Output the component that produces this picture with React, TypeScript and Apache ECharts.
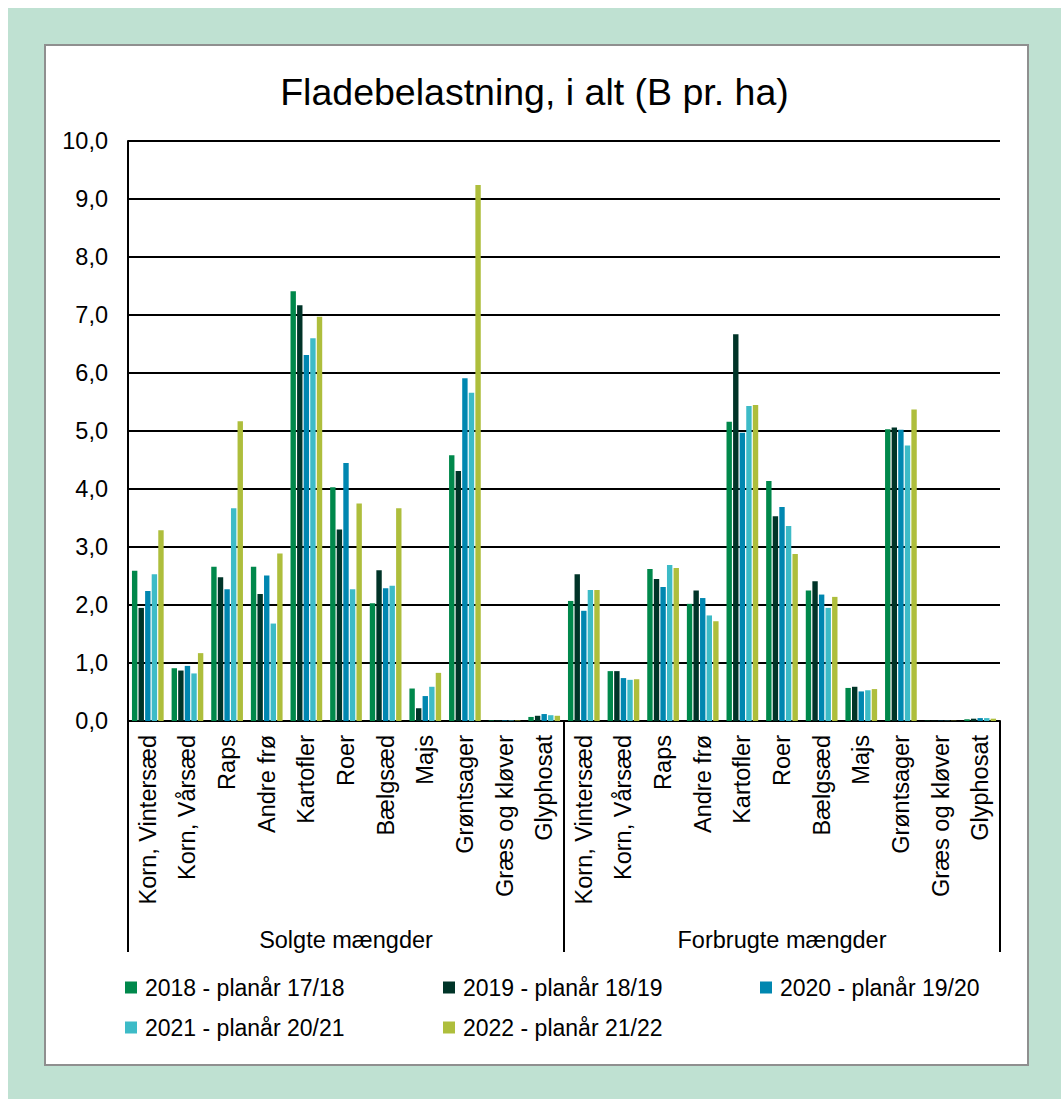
import React, { useRef, useEffect } from "react";
import * as echarts from "echarts";

const crops = [
  "Korn, Vintersæd",
  "Korn, Vårsæd",
  "Raps",
  "Andre frø",
  "Kartofler",
  "Roer",
  "Bælgsæd",
  "Majs",
  "Grøntsager",
  "Græs og kløver",
  "Glyphosat",
];
const groups = ["Solgte mængder", "Forbrugte mængder"];
const categories = [...crops, ...crops];

const seriesNames = [
  "2018 - planår 17/18",
  "2019 - planår 18/19",
  "2020 - planår 19/20",
  "2021 - planår 20/21",
  "2022 - planår 21/22",
];

const s2018 = [2.59, 0.91, 2.66, 2.66, 7.41, 4.03, 2.03, 0.56, 4.58, 0.01, 0.07, 2.07, 0.86, 2.62, 2.02, 5.16, 4.14, 2.25, 0.57, 5.03, 0.005, 0.03];
const s2019 = [1.95, 0.87, 2.48, 2.19, 7.17, 3.30, 2.60, 0.22, 4.31, 0.01, 0.09, 2.53, 0.86, 2.45, 2.25, 6.67, 3.53, 2.41, 0.59, 5.06, 0.005, 0.04];
const s2020 = [2.24, 0.95, 2.27, 2.51, 6.31, 4.45, 2.29, 0.43, 5.91, 0.01, 0.12, 1.90, 0.74, 2.31, 2.12, 4.97, 3.69, 2.18, 0.51, 5.02, 0.005, 0.05];
const s2021 = [2.53, 0.82, 3.67, 1.68, 6.60, 2.27, 2.33, 0.59, 5.66, 0.01, 0.10, 2.26, 0.71, 2.69, 1.82, 5.43, 3.36, 1.95, 0.53, 4.75, 0.005, 0.05];
const s2022 = [3.29, 1.17, 5.17, 2.89, 6.97, 3.75, 3.67, 0.83, 9.24, 0.01, 0.09, 2.26, 0.72, 2.64, 1.72, 5.45, 2.88, 2.14, 0.55, 5.37, 0.005, 0.04];
const seriesData = [s2018, s2019, s2020, s2021, s2022];

const yTicks = { min: 0, max: 10, interval: 1 };

const colors = ["#00884b", "#003428", "#0087b0", "#3dbbc7", "#aebe3c"];
const FONT = "'Liberation Sans', Arial, sans-serif";
const FS = 23.5;

export default function App() {
  const ref = useRef<HTMLDivElement>(null);

  useEffect(() => {
    const chart = echarts.init(ref.current!, null, { renderer: "svg" });

    const legendPos = [
      [117, 968],
      [435, 968],
      [752, 968],
      [117, 1008],
      [435, 1008],
    ];

    chart.setOption({
      animation: false,
      backgroundColor: "#bfe1d2",
      textStyle: { fontFamily: FONT, color: "#000" },
      graphic: [
        {
          type: "rect",
          z: -10,
          shape: { x: 37, y: 37, width: 983, height: 1020 },
          style: { fill: "#ffffff", stroke: "#8f8f8f", lineWidth: 2 },
        },
      ],
      title: {
        text: "Fladebelastning, i alt (B pr. ha)",
        left: "center",
        top: 60,
        textStyle: { fontFamily: FONT, fontSize: 37.5, fontWeight: "normal", color: "#000" },
      },
      legend: seriesNames.map((n, i) => ({
        data: [n],
        left: legendPos[i][0],
        top: legendPos[i][1],
        padding: 0,
        itemWidth: 12,
        itemHeight: 12,
        icon: "rect",
        selectedMode: false,
        textStyle: { fontFamily: FONT, fontSize: 23, color: "#000", padding: [0, 0, 0, 3] },
      })),
      grid: { left: 120, right: 61, top: 133, bottom: 378, containLabel: false },
      xAxis: [
        {
          type: "category",
          data: categories,
          position: "bottom",
          axisLine: { show: true, lineStyle: { color: "#000", width: 2 } },
          axisTick: { show: false },
          axisLabel: {
            interval: 0,
            rotate: 90,
            margin: 14,
            fontSize: FS,
            fontFamily: FONT,
            color: "#000",
          },
        },
        {
          type: "category",
          data: groups,
          position: "bottom",
          axisLine: { show: false },
          axisTick: {
            show: true,
            interval: 0,
            length: 231,
            lineStyle: { color: "#000", width: 2 },
          },
          axisLabel: {
            interval: 0,
            margin: 207,
            fontSize: FS,
            fontFamily: FONT,
            color: "#000",
          },
        },
      ],
      yAxis: {
        type: "value",
        min: yTicks.min,
        max: yTicks.max,
        interval: yTicks.interval,
        axisLine: { show: true, lineStyle: { color: "#000", width: 2 } },
        axisTick: { show: false },
        splitLine: { show: true, lineStyle: { color: "#000", width: 2 } },
        axisLabel: {
          margin: 20,
          fontSize: FS,
          fontFamily: FONT,
          color: "#000",
          formatter: (v: number) => v.toFixed(1).replace(".", ","),
        },
      },
      series: seriesNames.map((n, i) => ({
        name: n,
        type: "bar",
        xAxisIndex: 0,
        data: seriesData[i],
        itemStyle: { color: colors[i] },
        barGap: "22%",
        barCategoryGap: "20%",
      })),
    });

    return () => chart.dispose();
  }, []);

  return (
    <div
      ref={ref}
      style={{ position: "absolute", left: 8, top: 8, width: 1053, height: 1091 }}
    />
  );
}
